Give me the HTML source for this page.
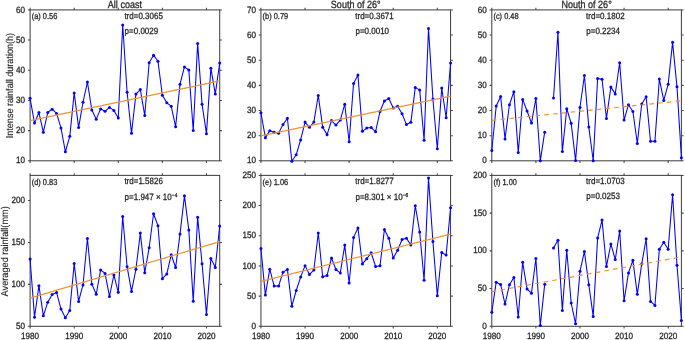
<!DOCTYPE html>
<html><head><meta charset="utf-8"><style>
html,body{margin:0;padding:0;background:#fff;width:685px;height:340px;overflow:hidden}
svg{display:block;will-change:transform}
text{font-family:"Liberation Sans",sans-serif;fill:#262626;stroke:#262626;stroke-width:0.28px;text-rendering:geometricPrecision}
.tl{font-size:9.1px}
.an{font-size:9.1px}
.lb{font-size:8.6px}
.sup{font-size:5.6px}
.ti{font-size:10.5px}
.yl{font-size:9.9px;stroke-width:0.12px}
</style></head><body>
<svg width="685" height="340" viewBox="0 0 685 340">
<rect width="685" height="340" fill="#fff"/>
<rect x="30.1" y="9.9" width="189.6" height="150.9" fill="none" stroke="#444444" stroke-width="1.05"/>
<path d="M30.1 160.8h-2.2M219.7 160.8h2.2M30.1 130.62h-2.2M219.7 130.62h2.2M30.1 100.44h-2.2M219.7 100.44h2.2M30.1 70.26h-2.2M219.7 70.26h2.2M30.1 40.08h-2.2M219.7 40.08h2.2M30.1 9.9h-2.2M219.7 9.9h2.2M30.1 9.9v-2.2M30.1 160.8v2.2M74.19 9.9v-2.2M74.19 160.8v2.2M118.29 9.9v-2.2M118.29 160.8v2.2M162.38 9.9v-2.2M162.38 160.8v2.2M206.47 9.9v-2.2M206.47 160.8v2.2" stroke="#444444" stroke-width="1.05" fill="none"/>
<polyline points="30.1,98.33 34.51,123.08 38.92,112.51 43.33,132.13 47.74,112.51 52.15,109.19 56.56,113.42 60.97,127.9 65.37,151.75 69.78,136.35 74.19,92.9 78.6,127.6 83.01,102.25 87.42,82.03 91.83,110.1 96.24,119.15 100.65,108.89 105.06,111.3 109.47,107.38 113.88,110.4 118.29,117.94 122.7,24.99 127.1,92.29 131.51,133.34 135.92,94.1 140.33,89.58 144.74,115.53 149.15,62.71 153.56,55.17 157.97,61.21 162.38,95.31 166.79,102.85 171.2,106.17 175.61,126.7 180.02,84.14 184.43,66.94 188.83,69.96 193.24,130.62 197.65,43.4 202.06,104.36 206.47,133.64 210.88,68.15 215.29,94.1 219.7,63.02" fill="none" stroke="#0000ff" stroke-width="1.05" stroke-linejoin="round"/>
<circle cx="30.1" cy="98.33" r="1.5" fill="#0000ff"/>
<circle cx="34.51" cy="123.08" r="1.5" fill="#0000ff"/>
<circle cx="38.92" cy="112.51" r="1.5" fill="#0000ff"/>
<circle cx="43.33" cy="132.13" r="1.5" fill="#0000ff"/>
<circle cx="47.74" cy="112.51" r="1.5" fill="#0000ff"/>
<circle cx="52.15" cy="109.19" r="1.5" fill="#0000ff"/>
<circle cx="56.56" cy="113.42" r="1.5" fill="#0000ff"/>
<circle cx="60.97" cy="127.9" r="1.5" fill="#0000ff"/>
<circle cx="65.37" cy="151.75" r="1.5" fill="#0000ff"/>
<circle cx="69.78" cy="136.35" r="1.5" fill="#0000ff"/>
<circle cx="74.19" cy="92.9" r="1.5" fill="#0000ff"/>
<circle cx="78.6" cy="127.6" r="1.5" fill="#0000ff"/>
<circle cx="83.01" cy="102.25" r="1.5" fill="#0000ff"/>
<circle cx="87.42" cy="82.03" r="1.5" fill="#0000ff"/>
<circle cx="91.83" cy="110.1" r="1.5" fill="#0000ff"/>
<circle cx="96.24" cy="119.15" r="1.5" fill="#0000ff"/>
<circle cx="100.65" cy="108.89" r="1.5" fill="#0000ff"/>
<circle cx="105.06" cy="111.3" r="1.5" fill="#0000ff"/>
<circle cx="109.47" cy="107.38" r="1.5" fill="#0000ff"/>
<circle cx="113.88" cy="110.4" r="1.5" fill="#0000ff"/>
<circle cx="118.29" cy="117.94" r="1.5" fill="#0000ff"/>
<circle cx="122.7" cy="24.99" r="1.5" fill="#0000ff"/>
<circle cx="127.1" cy="92.29" r="1.5" fill="#0000ff"/>
<circle cx="131.51" cy="133.34" r="1.5" fill="#0000ff"/>
<circle cx="135.92" cy="94.1" r="1.5" fill="#0000ff"/>
<circle cx="140.33" cy="89.58" r="1.5" fill="#0000ff"/>
<circle cx="144.74" cy="115.53" r="1.5" fill="#0000ff"/>
<circle cx="149.15" cy="62.71" r="1.5" fill="#0000ff"/>
<circle cx="153.56" cy="55.17" r="1.5" fill="#0000ff"/>
<circle cx="157.97" cy="61.21" r="1.5" fill="#0000ff"/>
<circle cx="162.38" cy="95.31" r="1.5" fill="#0000ff"/>
<circle cx="166.79" cy="102.85" r="1.5" fill="#0000ff"/>
<circle cx="171.2" cy="106.17" r="1.5" fill="#0000ff"/>
<circle cx="175.61" cy="126.7" r="1.5" fill="#0000ff"/>
<circle cx="180.02" cy="84.14" r="1.5" fill="#0000ff"/>
<circle cx="184.43" cy="66.94" r="1.5" fill="#0000ff"/>
<circle cx="188.83" cy="69.96" r="1.5" fill="#0000ff"/>
<circle cx="193.24" cy="130.62" r="1.5" fill="#0000ff"/>
<circle cx="197.65" cy="43.4" r="1.5" fill="#0000ff"/>
<circle cx="202.06" cy="104.36" r="1.5" fill="#0000ff"/>
<circle cx="206.47" cy="133.64" r="1.5" fill="#0000ff"/>
<circle cx="210.88" cy="68.15" r="1.5" fill="#0000ff"/>
<circle cx="215.29" cy="94.1" r="1.5" fill="#0000ff"/>
<circle cx="219.7" cy="63.02" r="1.5" fill="#0000ff"/>
<line x1="30.1" y1="120.66" x2="219.7" y2="80.82" stroke="#ed952e" stroke-width="1.2"/>
<text transform="translate(25.1,163.4) scale(0.89,1)" class="tl" text-anchor="end">10</text>
<text transform="translate(25.1,133.22) scale(0.89,1)" class="tl" text-anchor="end">20</text>
<text transform="translate(25.1,103.04) scale(0.89,1)" class="tl" text-anchor="end">30</text>
<text transform="translate(25.1,72.86) scale(0.89,1)" class="tl" text-anchor="end">40</text>
<text transform="translate(25.1,42.68) scale(0.89,1)" class="tl" text-anchor="end">50</text>
<text transform="translate(25.1,12.5) scale(0.89,1)" class="tl" text-anchor="end">60</text>
<text transform="translate(31.7,19.3) scale(0.865,1)" class="lb">(a) 0.56</text>
<text transform="translate(124.4,18.9) scale(0.88,1)" class="an">trd=0.3065</text>
<text transform="translate(124.6,33.6) scale(0.88,1)" class="an">p=0.0029</text>
<text transform="translate(124.9,7.5) scale(0.86,1)" class="ti" text-anchor="middle">All coast</text>
<rect x="260.95" y="9.9" width="189.6" height="150.9" fill="none" stroke="#444444" stroke-width="1.05"/>
<path d="M260.95 160.8h-2.2M450.55 160.8h2.2M260.95 135.65h-2.2M450.55 135.65h2.2M260.95 110.5h-2.2M450.55 110.5h2.2M260.95 85.35h-2.2M450.55 85.35h2.2M260.95 60.2h-2.2M450.55 60.2h2.2M260.95 35.05h-2.2M450.55 35.05h2.2M260.95 9.9h-2.2M450.55 9.9h2.2M260.95 9.9v-2.2M260.95 160.8v2.2M305.04 9.9v-2.2M305.04 160.8v2.2M349.14 9.9v-2.2M349.14 160.8v2.2M393.23 9.9v-2.2M393.23 160.8v2.2M437.32 9.9v-2.2M437.32 160.8v2.2" stroke="#444444" stroke-width="1.05" fill="none"/>
<polyline points="260.95,112.76 265.36,137.66 269.77,130.87 274.18,132.13 278.59,133.13 283,124.58 287.41,118.3 291.82,161.3 296.22,154.76 300.63,139.93 305.04,122.07 309.45,127.35 313.86,122.07 318.27,95.41 322.68,127.35 327.09,134.64 331.5,120.56 335.91,125.09 340.32,120.06 344.73,104.21 349.14,141.69 353.55,83.59 357.95,75.04 362.36,131.37 366.77,128.1 371.18,127.6 375.59,131.63 380,111.51 384.41,100.94 388.82,98.43 393.23,107.99 397.64,106.22 402.05,113.77 406.46,124.58 410.87,122.32 415.28,87.61 419.68,89.88 424.09,140.18 428.5,28.51 432.91,98.93 437.32,148.73 441.73,88.12 446.14,117.79 450.55,62.97" fill="none" stroke="#0000ff" stroke-width="1.05" stroke-linejoin="round"/>
<circle cx="260.95" cy="112.76" r="1.5" fill="#0000ff"/>
<circle cx="265.36" cy="137.66" r="1.5" fill="#0000ff"/>
<circle cx="269.77" cy="130.87" r="1.5" fill="#0000ff"/>
<circle cx="274.18" cy="132.13" r="1.5" fill="#0000ff"/>
<circle cx="278.59" cy="133.13" r="1.5" fill="#0000ff"/>
<circle cx="283" cy="124.58" r="1.5" fill="#0000ff"/>
<circle cx="287.41" cy="118.3" r="1.5" fill="#0000ff"/>
<circle cx="291.82" cy="161.3" r="1.5" fill="#0000ff"/>
<circle cx="296.22" cy="154.76" r="1.5" fill="#0000ff"/>
<circle cx="300.63" cy="139.93" r="1.5" fill="#0000ff"/>
<circle cx="305.04" cy="122.07" r="1.5" fill="#0000ff"/>
<circle cx="309.45" cy="127.35" r="1.5" fill="#0000ff"/>
<circle cx="313.86" cy="122.07" r="1.5" fill="#0000ff"/>
<circle cx="318.27" cy="95.41" r="1.5" fill="#0000ff"/>
<circle cx="322.68" cy="127.35" r="1.5" fill="#0000ff"/>
<circle cx="327.09" cy="134.64" r="1.5" fill="#0000ff"/>
<circle cx="331.5" cy="120.56" r="1.5" fill="#0000ff"/>
<circle cx="335.91" cy="125.09" r="1.5" fill="#0000ff"/>
<circle cx="340.32" cy="120.06" r="1.5" fill="#0000ff"/>
<circle cx="344.73" cy="104.21" r="1.5" fill="#0000ff"/>
<circle cx="349.14" cy="141.69" r="1.5" fill="#0000ff"/>
<circle cx="353.55" cy="83.59" r="1.5" fill="#0000ff"/>
<circle cx="357.95" cy="75.04" r="1.5" fill="#0000ff"/>
<circle cx="362.36" cy="131.37" r="1.5" fill="#0000ff"/>
<circle cx="366.77" cy="128.1" r="1.5" fill="#0000ff"/>
<circle cx="371.18" cy="127.6" r="1.5" fill="#0000ff"/>
<circle cx="375.59" cy="131.63" r="1.5" fill="#0000ff"/>
<circle cx="380" cy="111.51" r="1.5" fill="#0000ff"/>
<circle cx="384.41" cy="100.94" r="1.5" fill="#0000ff"/>
<circle cx="388.82" cy="98.43" r="1.5" fill="#0000ff"/>
<circle cx="393.23" cy="107.99" r="1.5" fill="#0000ff"/>
<circle cx="397.64" cy="106.22" r="1.5" fill="#0000ff"/>
<circle cx="402.05" cy="113.77" r="1.5" fill="#0000ff"/>
<circle cx="406.46" cy="124.58" r="1.5" fill="#0000ff"/>
<circle cx="410.87" cy="122.32" r="1.5" fill="#0000ff"/>
<circle cx="415.28" cy="87.61" r="1.5" fill="#0000ff"/>
<circle cx="419.68" cy="89.88" r="1.5" fill="#0000ff"/>
<circle cx="424.09" cy="140.18" r="1.5" fill="#0000ff"/>
<circle cx="428.5" cy="28.51" r="1.5" fill="#0000ff"/>
<circle cx="432.91" cy="98.93" r="1.5" fill="#0000ff"/>
<circle cx="437.32" cy="148.73" r="1.5" fill="#0000ff"/>
<circle cx="441.73" cy="88.12" r="1.5" fill="#0000ff"/>
<circle cx="446.14" cy="117.79" r="1.5" fill="#0000ff"/>
<circle cx="450.55" cy="62.97" r="1.5" fill="#0000ff"/>
<line x1="260.95" y1="135.9" x2="450.55" y2="96.16" stroke="#ed952e" stroke-width="1.2"/>
<text transform="translate(255.95,163.4) scale(0.89,1)" class="tl" text-anchor="end">10</text>
<text transform="translate(255.95,138.25) scale(0.89,1)" class="tl" text-anchor="end">20</text>
<text transform="translate(255.95,113.1) scale(0.89,1)" class="tl" text-anchor="end">30</text>
<text transform="translate(255.95,87.95) scale(0.89,1)" class="tl" text-anchor="end">40</text>
<text transform="translate(255.95,62.8) scale(0.89,1)" class="tl" text-anchor="end">50</text>
<text transform="translate(255.95,37.65) scale(0.89,1)" class="tl" text-anchor="end">60</text>
<text transform="translate(255.95,12.5) scale(0.89,1)" class="tl" text-anchor="end">70</text>
<text transform="translate(262.55,19.3) scale(0.865,1)" class="lb">(b) 0.79</text>
<text transform="translate(355.25,18.9) scale(0.88,1)" class="an">trd=0.3671</text>
<text transform="translate(355.45,33.6) scale(0.88,1)" class="an">p=0.0010</text>
<text transform="translate(355.75,7.5) scale(0.86,1)" class="ti" text-anchor="middle">South of 26°</text>
<rect x="491.8" y="9.9" width="189.6" height="150.9" fill="none" stroke="#444444" stroke-width="1.05"/>
<path d="M491.8 160.8h-2.2M681.4 160.8h2.2M491.8 135.65h-2.2M681.4 135.65h2.2M491.8 110.5h-2.2M681.4 110.5h2.2M491.8 85.35h-2.2M681.4 85.35h2.2M491.8 60.2h-2.2M681.4 60.2h2.2M491.8 35.05h-2.2M681.4 35.05h2.2M491.8 9.9h-2.2M681.4 9.9h2.2M491.8 9.9v-2.2M491.8 160.8v2.2M535.89 9.9v-2.2M535.89 160.8v2.2M579.99 9.9v-2.2M579.99 160.8v2.2M624.08 9.9v-2.2M624.08 160.8v2.2M668.17 9.9v-2.2M668.17 160.8v2.2" stroke="#444444" stroke-width="1.05" fill="none"/>
<polyline points="491.8,150.49 496.21,105.97 500.62,96.42 505.03,138.92 509.44,104.72 513.85,91.64 518.26,152.5 522.67,99.43 527.07,111 531.48,123.08 535.89,98.43 540.3,160.8 544.71,132.13" fill="none" stroke="#0000ff" stroke-width="1.05" stroke-linejoin="round"/>
<polyline points="553.53,97.93 557.94,32.28 562.35,151.49 566.76,108.74 571.17,123.33 575.58,160.55 579.99,107.48 584.4,75.54 588.8,127.1 593.21,160.8 597.62,78.56 602.03,79.31 606.44,118.55 610.85,87.11 615.26,93.9 619.67,62.71 624.08,120.06 628.49,104.72 632.9,111.51 637.31,143.45 641.72,103.96 646.13,96.67 650.53,141.18 654.94,141.18 659.35,79.06 663.76,100.44 668.17,84.34 672.58,42.34 676.99,86.86 681.4,157.78" fill="none" stroke="#0000ff" stroke-width="1.05" stroke-linejoin="round"/>
<circle cx="491.8" cy="150.49" r="1.5" fill="#0000ff"/>
<circle cx="496.21" cy="105.97" r="1.5" fill="#0000ff"/>
<circle cx="500.62" cy="96.42" r="1.5" fill="#0000ff"/>
<circle cx="505.03" cy="138.92" r="1.5" fill="#0000ff"/>
<circle cx="509.44" cy="104.72" r="1.5" fill="#0000ff"/>
<circle cx="513.85" cy="91.64" r="1.5" fill="#0000ff"/>
<circle cx="518.26" cy="152.5" r="1.5" fill="#0000ff"/>
<circle cx="522.67" cy="99.43" r="1.5" fill="#0000ff"/>
<circle cx="527.07" cy="111" r="1.5" fill="#0000ff"/>
<circle cx="531.48" cy="123.08" r="1.5" fill="#0000ff"/>
<circle cx="535.89" cy="98.43" r="1.5" fill="#0000ff"/>
<circle cx="540.3" cy="160.8" r="1.5" fill="#0000ff"/>
<circle cx="544.71" cy="132.13" r="1.5" fill="#0000ff"/>
<circle cx="553.53" cy="97.93" r="1.5" fill="#0000ff"/>
<circle cx="557.94" cy="32.28" r="1.5" fill="#0000ff"/>
<circle cx="562.35" cy="151.49" r="1.5" fill="#0000ff"/>
<circle cx="566.76" cy="108.74" r="1.5" fill="#0000ff"/>
<circle cx="571.17" cy="123.33" r="1.5" fill="#0000ff"/>
<circle cx="575.58" cy="160.55" r="1.5" fill="#0000ff"/>
<circle cx="579.99" cy="107.48" r="1.5" fill="#0000ff"/>
<circle cx="584.4" cy="75.54" r="1.5" fill="#0000ff"/>
<circle cx="588.8" cy="127.1" r="1.5" fill="#0000ff"/>
<circle cx="593.21" cy="160.8" r="1.5" fill="#0000ff"/>
<circle cx="597.62" cy="78.56" r="1.5" fill="#0000ff"/>
<circle cx="602.03" cy="79.31" r="1.5" fill="#0000ff"/>
<circle cx="606.44" cy="118.55" r="1.5" fill="#0000ff"/>
<circle cx="610.85" cy="87.11" r="1.5" fill="#0000ff"/>
<circle cx="615.26" cy="93.9" r="1.5" fill="#0000ff"/>
<circle cx="619.67" cy="62.71" r="1.5" fill="#0000ff"/>
<circle cx="624.08" cy="120.06" r="1.5" fill="#0000ff"/>
<circle cx="628.49" cy="104.72" r="1.5" fill="#0000ff"/>
<circle cx="632.9" cy="111.51" r="1.5" fill="#0000ff"/>
<circle cx="637.31" cy="143.45" r="1.5" fill="#0000ff"/>
<circle cx="641.72" cy="103.96" r="1.5" fill="#0000ff"/>
<circle cx="646.13" cy="96.67" r="1.5" fill="#0000ff"/>
<circle cx="650.53" cy="141.18" r="1.5" fill="#0000ff"/>
<circle cx="654.94" cy="141.18" r="1.5" fill="#0000ff"/>
<circle cx="659.35" cy="79.06" r="1.5" fill="#0000ff"/>
<circle cx="663.76" cy="100.44" r="1.5" fill="#0000ff"/>
<circle cx="668.17" cy="84.34" r="1.5" fill="#0000ff"/>
<circle cx="672.58" cy="42.34" r="1.5" fill="#0000ff"/>
<circle cx="676.99" cy="86.86" r="1.5" fill="#0000ff"/>
<circle cx="681.4" cy="157.78" r="1.5" fill="#0000ff"/>
<line x1="491.8" y1="120.31" x2="681.4" y2="100.82" stroke="#ed952e" stroke-width="1.2" stroke-dasharray="4.6,4.2"/>
<text transform="translate(486.8,163.4) scale(0.89,1)" class="tl" text-anchor="end">0</text>
<text transform="translate(486.8,138.25) scale(0.89,1)" class="tl" text-anchor="end">10</text>
<text transform="translate(486.8,113.1) scale(0.89,1)" class="tl" text-anchor="end">20</text>
<text transform="translate(486.8,87.95) scale(0.89,1)" class="tl" text-anchor="end">30</text>
<text transform="translate(486.8,62.8) scale(0.89,1)" class="tl" text-anchor="end">40</text>
<text transform="translate(486.8,37.65) scale(0.89,1)" class="tl" text-anchor="end">50</text>
<text transform="translate(486.8,12.5) scale(0.89,1)" class="tl" text-anchor="end">60</text>
<text transform="translate(493.4,19.3) scale(0.865,1)" class="lb">(c) 0.48</text>
<text transform="translate(586.1,18.9) scale(0.88,1)" class="an">trd=0.1802</text>
<text transform="translate(586.3,33.6) scale(0.88,1)" class="an">p=0.2234</text>
<text transform="translate(586.6,7.5) scale(0.86,1)" class="ti" text-anchor="middle">Nouth of 26°</text>
<rect x="30.1" y="175.4" width="189.6" height="150.9" fill="none" stroke="#444444" stroke-width="1.05"/>
<path d="M30.1 326.3h-2.2M219.7 326.3h2.2M30.1 284.38h-2.2M219.7 284.38h2.2M30.1 242.47h-2.2M219.7 242.47h2.2M30.1 200.55h-2.2M219.7 200.55h2.2M30.1 175.4v-2.2M30.1 326.3v2.2M74.19 175.4v-2.2M74.19 326.3v2.2M118.29 175.4v-2.2M118.29 326.3v2.2M162.38 175.4v-2.2M162.38 326.3v2.2M206.47 175.4v-2.2M206.47 326.3v2.2" stroke="#444444" stroke-width="1.05" fill="none"/>
<polyline points="30.1,259.07 34.51,317.25 38.92,285.64 43.33,315.82 47.74,302.32 52.15,294.44 56.56,292.43 60.97,309.11 65.37,317.67 69.78,310.46 74.19,263.59 78.6,301.4 83.01,284.97 87.42,238.44 91.83,284.13 96.24,294.28 100.65,269.88 105.06,273.4 109.47,296.46 113.88,274.99 118.29,292.35 122.7,216.56 127.1,266.69 131.51,291.43 135.92,269.29 140.33,233.08 144.74,272.73 149.15,247.75 153.56,213.71 157.97,225.7 162.38,278.77 166.79,273.9 171.2,254.79 175.61,267.53 180.02,234.08 184.43,195.69 188.83,230.06 193.24,301.23 197.65,217.15 202.06,263.76 206.47,314.56 210.88,258.39 215.29,267.53 219.7,226.12" fill="none" stroke="#0000ff" stroke-width="1.05" stroke-linejoin="round"/>
<circle cx="30.1" cy="259.07" r="1.5" fill="#0000ff"/>
<circle cx="34.51" cy="317.25" r="1.5" fill="#0000ff"/>
<circle cx="38.92" cy="285.64" r="1.5" fill="#0000ff"/>
<circle cx="43.33" cy="315.82" r="1.5" fill="#0000ff"/>
<circle cx="47.74" cy="302.32" r="1.5" fill="#0000ff"/>
<circle cx="52.15" cy="294.44" r="1.5" fill="#0000ff"/>
<circle cx="56.56" cy="292.43" r="1.5" fill="#0000ff"/>
<circle cx="60.97" cy="309.11" r="1.5" fill="#0000ff"/>
<circle cx="65.37" cy="317.67" r="1.5" fill="#0000ff"/>
<circle cx="69.78" cy="310.46" r="1.5" fill="#0000ff"/>
<circle cx="74.19" cy="263.59" r="1.5" fill="#0000ff"/>
<circle cx="78.6" cy="301.4" r="1.5" fill="#0000ff"/>
<circle cx="83.01" cy="284.97" r="1.5" fill="#0000ff"/>
<circle cx="87.42" cy="238.44" r="1.5" fill="#0000ff"/>
<circle cx="91.83" cy="284.13" r="1.5" fill="#0000ff"/>
<circle cx="96.24" cy="294.28" r="1.5" fill="#0000ff"/>
<circle cx="100.65" cy="269.88" r="1.5" fill="#0000ff"/>
<circle cx="105.06" cy="273.4" r="1.5" fill="#0000ff"/>
<circle cx="109.47" cy="296.46" r="1.5" fill="#0000ff"/>
<circle cx="113.88" cy="274.99" r="1.5" fill="#0000ff"/>
<circle cx="118.29" cy="292.35" r="1.5" fill="#0000ff"/>
<circle cx="122.7" cy="216.56" r="1.5" fill="#0000ff"/>
<circle cx="127.1" cy="266.69" r="1.5" fill="#0000ff"/>
<circle cx="131.51" cy="291.43" r="1.5" fill="#0000ff"/>
<circle cx="135.92" cy="269.29" r="1.5" fill="#0000ff"/>
<circle cx="140.33" cy="233.08" r="1.5" fill="#0000ff"/>
<circle cx="144.74" cy="272.73" r="1.5" fill="#0000ff"/>
<circle cx="149.15" cy="247.75" r="1.5" fill="#0000ff"/>
<circle cx="153.56" cy="213.71" r="1.5" fill="#0000ff"/>
<circle cx="157.97" cy="225.7" r="1.5" fill="#0000ff"/>
<circle cx="162.38" cy="278.77" r="1.5" fill="#0000ff"/>
<circle cx="166.79" cy="273.9" r="1.5" fill="#0000ff"/>
<circle cx="171.2" cy="254.79" r="1.5" fill="#0000ff"/>
<circle cx="175.61" cy="267.53" r="1.5" fill="#0000ff"/>
<circle cx="180.02" cy="234.08" r="1.5" fill="#0000ff"/>
<circle cx="184.43" cy="195.69" r="1.5" fill="#0000ff"/>
<circle cx="188.83" cy="230.06" r="1.5" fill="#0000ff"/>
<circle cx="193.24" cy="301.23" r="1.5" fill="#0000ff"/>
<circle cx="197.65" cy="217.15" r="1.5" fill="#0000ff"/>
<circle cx="202.06" cy="263.76" r="1.5" fill="#0000ff"/>
<circle cx="206.47" cy="314.56" r="1.5" fill="#0000ff"/>
<circle cx="210.88" cy="258.39" r="1.5" fill="#0000ff"/>
<circle cx="215.29" cy="267.53" r="1.5" fill="#0000ff"/>
<circle cx="219.7" cy="226.12" r="1.5" fill="#0000ff"/>
<line x1="30.1" y1="298.05" x2="219.7" y2="241.63" stroke="#ed952e" stroke-width="1.2"/>
<text transform="translate(25.1,328.9) scale(0.89,1)" class="tl" text-anchor="end">50</text>
<text transform="translate(25.1,286.98) scale(0.89,1)" class="tl" text-anchor="end">100</text>
<text transform="translate(25.1,245.07) scale(0.89,1)" class="tl" text-anchor="end">150</text>
<text transform="translate(25.1,203.15) scale(0.89,1)" class="tl" text-anchor="end">200</text>
<text transform="translate(30.1,338.6) scale(0.89,1)" class="tl" text-anchor="middle">1980</text>
<text transform="translate(74.19,338.6) scale(0.89,1)" class="tl" text-anchor="middle">1990</text>
<text transform="translate(118.29,338.6) scale(0.89,1)" class="tl" text-anchor="middle">2000</text>
<text transform="translate(162.38,338.6) scale(0.89,1)" class="tl" text-anchor="middle">2010</text>
<text transform="translate(206.47,338.6) scale(0.89,1)" class="tl" text-anchor="middle">2020</text>
<text transform="translate(31.7,184.8) scale(0.865,1)" class="lb">(d) 0.83</text>
<text transform="translate(124.4,184.4) scale(0.88,1)" class="an">trd=1.5826</text>
<text transform="translate(124.6,199.7) scale(0.88,1)" class="an">p=1.947 × 10<tspan class="sup" dy="-3.0">−4</tspan></text>
<rect x="260.95" y="175.4" width="189.6" height="150.9" fill="none" stroke="#444444" stroke-width="1.05"/>
<path d="M260.95 326.3h-2.2M450.55 326.3h2.2M260.95 296.12h-2.2M450.55 296.12h2.2M260.95 265.94h-2.2M450.55 265.94h2.2M260.95 235.76h-2.2M450.55 235.76h2.2M260.95 205.58h-2.2M450.55 205.58h2.2M260.95 175.4h-2.2M450.55 175.4h2.2M260.95 175.4v-2.2M260.95 326.3v2.2M305.04 175.4v-2.2M305.04 326.3v2.2M349.14 175.4v-2.2M349.14 326.3v2.2M393.23 175.4v-2.2M393.23 326.3v2.2M437.32 175.4v-2.2M437.32 326.3v2.2" stroke="#444444" stroke-width="1.05" fill="none"/>
<polyline points="260.95,248.56 265.36,295.09 269.77,269.14 274.18,286.04 278.59,286.04 283,272.16 287.41,269.38 291.82,306.2 296.22,290.51 300.63,277.11 305.04,265.64 309.45,274.51 313.86,269.98 318.27,233.04 322.68,276.8 327.09,275.48 331.5,257.97 335.91,269.56 340.32,272.88 344.73,245.12 349.14,282.96 353.55,237.39 357.95,228.03 362.36,263.95 366.77,258.7 371.18,252.84 375.59,266.48 380,265.7 384.41,229.6 388.82,238.17 393.23,257.97 397.64,250.25 402.05,239.44 406.46,238.17 410.87,245.12 415.28,205.76 419.68,231.96 424.09,280.25 428.5,178.12 432.91,241.43 437.32,295.64 441.73,252.48 446.14,255.08 450.55,207.69" fill="none" stroke="#0000ff" stroke-width="1.05" stroke-linejoin="round"/>
<circle cx="260.95" cy="248.56" r="1.5" fill="#0000ff"/>
<circle cx="265.36" cy="295.09" r="1.5" fill="#0000ff"/>
<circle cx="269.77" cy="269.14" r="1.5" fill="#0000ff"/>
<circle cx="274.18" cy="286.04" r="1.5" fill="#0000ff"/>
<circle cx="278.59" cy="286.04" r="1.5" fill="#0000ff"/>
<circle cx="283" cy="272.16" r="1.5" fill="#0000ff"/>
<circle cx="287.41" cy="269.38" r="1.5" fill="#0000ff"/>
<circle cx="291.82" cy="306.2" r="1.5" fill="#0000ff"/>
<circle cx="296.22" cy="290.51" r="1.5" fill="#0000ff"/>
<circle cx="300.63" cy="277.11" r="1.5" fill="#0000ff"/>
<circle cx="305.04" cy="265.64" r="1.5" fill="#0000ff"/>
<circle cx="309.45" cy="274.51" r="1.5" fill="#0000ff"/>
<circle cx="313.86" cy="269.98" r="1.5" fill="#0000ff"/>
<circle cx="318.27" cy="233.04" r="1.5" fill="#0000ff"/>
<circle cx="322.68" cy="276.8" r="1.5" fill="#0000ff"/>
<circle cx="327.09" cy="275.48" r="1.5" fill="#0000ff"/>
<circle cx="331.5" cy="257.97" r="1.5" fill="#0000ff"/>
<circle cx="335.91" cy="269.56" r="1.5" fill="#0000ff"/>
<circle cx="340.32" cy="272.88" r="1.5" fill="#0000ff"/>
<circle cx="344.73" cy="245.12" r="1.5" fill="#0000ff"/>
<circle cx="349.14" cy="282.96" r="1.5" fill="#0000ff"/>
<circle cx="353.55" cy="237.39" r="1.5" fill="#0000ff"/>
<circle cx="357.95" cy="228.03" r="1.5" fill="#0000ff"/>
<circle cx="362.36" cy="263.95" r="1.5" fill="#0000ff"/>
<circle cx="366.77" cy="258.7" r="1.5" fill="#0000ff"/>
<circle cx="371.18" cy="252.84" r="1.5" fill="#0000ff"/>
<circle cx="375.59" cy="266.48" r="1.5" fill="#0000ff"/>
<circle cx="380" cy="265.7" r="1.5" fill="#0000ff"/>
<circle cx="384.41" cy="229.6" r="1.5" fill="#0000ff"/>
<circle cx="388.82" cy="238.17" r="1.5" fill="#0000ff"/>
<circle cx="393.23" cy="257.97" r="1.5" fill="#0000ff"/>
<circle cx="397.64" cy="250.25" r="1.5" fill="#0000ff"/>
<circle cx="402.05" cy="239.44" r="1.5" fill="#0000ff"/>
<circle cx="406.46" cy="238.17" r="1.5" fill="#0000ff"/>
<circle cx="410.87" cy="245.12" r="1.5" fill="#0000ff"/>
<circle cx="415.28" cy="205.76" r="1.5" fill="#0000ff"/>
<circle cx="419.68" cy="231.96" r="1.5" fill="#0000ff"/>
<circle cx="424.09" cy="280.25" r="1.5" fill="#0000ff"/>
<circle cx="428.5" cy="178.12" r="1.5" fill="#0000ff"/>
<circle cx="432.91" cy="241.43" r="1.5" fill="#0000ff"/>
<circle cx="437.32" cy="295.64" r="1.5" fill="#0000ff"/>
<circle cx="441.73" cy="252.48" r="1.5" fill="#0000ff"/>
<circle cx="446.14" cy="255.08" r="1.5" fill="#0000ff"/>
<circle cx="450.55" cy="207.69" r="1.5" fill="#0000ff"/>
<line x1="260.95" y1="281.45" x2="450.55" y2="234.13" stroke="#ed952e" stroke-width="1.2"/>
<text transform="translate(255.95,328.9) scale(0.89,1)" class="tl" text-anchor="end">0</text>
<text transform="translate(255.95,298.72) scale(0.89,1)" class="tl" text-anchor="end">50</text>
<text transform="translate(255.95,268.54) scale(0.89,1)" class="tl" text-anchor="end">100</text>
<text transform="translate(255.95,238.36) scale(0.89,1)" class="tl" text-anchor="end">150</text>
<text transform="translate(255.95,208.18) scale(0.89,1)" class="tl" text-anchor="end">200</text>
<text transform="translate(255.95,178) scale(0.89,1)" class="tl" text-anchor="end">250</text>
<text transform="translate(260.95,338.6) scale(0.89,1)" class="tl" text-anchor="middle">1980</text>
<text transform="translate(305.04,338.6) scale(0.89,1)" class="tl" text-anchor="middle">1990</text>
<text transform="translate(349.14,338.6) scale(0.89,1)" class="tl" text-anchor="middle">2000</text>
<text transform="translate(393.23,338.6) scale(0.89,1)" class="tl" text-anchor="middle">2010</text>
<text transform="translate(437.32,338.6) scale(0.89,1)" class="tl" text-anchor="middle">2020</text>
<text transform="translate(262.55,184.8) scale(0.865,1)" class="lb">(e) 1.06</text>
<text transform="translate(355.25,184.4) scale(0.88,1)" class="an">trd=1.8277</text>
<text transform="translate(355.45,199.7) scale(0.88,1)" class="an">p=8.301 × 10<tspan class="sup" dy="-3.0">−6</tspan></text>
<rect x="491.8" y="175.4" width="189.6" height="150.9" fill="none" stroke="#444444" stroke-width="1.05"/>
<path d="M491.8 326.3h-2.2M681.4 326.3h2.2M491.8 288.58h-2.2M681.4 288.58h2.2M491.8 250.85h-2.2M681.4 250.85h2.2M491.8 213.12h-2.2M681.4 213.12h2.2M491.8 175.4h-2.2M681.4 175.4h2.2M491.8 175.4v-2.2M491.8 326.3v2.2M535.89 175.4v-2.2M535.89 326.3v2.2M579.99 175.4v-2.2M579.99 326.3v2.2M624.08 175.4v-2.2M624.08 326.3v2.2M668.17 175.4v-2.2M668.17 326.3v2.2" stroke="#444444" stroke-width="1.05" fill="none"/>
<polyline points="491.8,312.19 496.21,282.16 500.62,284.43 505.03,304.04 509.44,284.73 513.85,277.48 518.26,316.94 522.67,262.32 527.07,289.1 531.48,293.18 535.89,258.47 540.3,325.55 544.71,284.35" fill="none" stroke="#0000ff" stroke-width="1.05" stroke-linejoin="round"/>
<polyline points="553.53,248.06 557.94,240.36 562.35,310.53 566.76,250.17 571.17,302.99 575.58,323.81 579.99,271.22 584.4,251.45 588.8,284.65 593.21,316.42 597.62,238.1 602.03,220.07 606.44,266.47 610.85,243.98 615.26,259.53 619.67,231.01 624.08,300.72 628.49,272.88 632.9,260.28 637.31,294.31 641.72,263.9 646.13,238.78 650.53,301.48 654.94,305.4 659.35,249.19 663.76,242.32 668.17,249.19 672.58,194.72 676.99,265.19 681.4,320.57" fill="none" stroke="#0000ff" stroke-width="1.05" stroke-linejoin="round"/>
<circle cx="491.8" cy="312.19" r="1.5" fill="#0000ff"/>
<circle cx="496.21" cy="282.16" r="1.5" fill="#0000ff"/>
<circle cx="500.62" cy="284.43" r="1.5" fill="#0000ff"/>
<circle cx="505.03" cy="304.04" r="1.5" fill="#0000ff"/>
<circle cx="509.44" cy="284.73" r="1.5" fill="#0000ff"/>
<circle cx="513.85" cy="277.48" r="1.5" fill="#0000ff"/>
<circle cx="518.26" cy="316.94" r="1.5" fill="#0000ff"/>
<circle cx="522.67" cy="262.32" r="1.5" fill="#0000ff"/>
<circle cx="527.07" cy="289.1" r="1.5" fill="#0000ff"/>
<circle cx="531.48" cy="293.18" r="1.5" fill="#0000ff"/>
<circle cx="535.89" cy="258.47" r="1.5" fill="#0000ff"/>
<circle cx="540.3" cy="325.55" r="1.5" fill="#0000ff"/>
<circle cx="544.71" cy="284.35" r="1.5" fill="#0000ff"/>
<circle cx="553.53" cy="248.06" r="1.5" fill="#0000ff"/>
<circle cx="557.94" cy="240.36" r="1.5" fill="#0000ff"/>
<circle cx="562.35" cy="310.53" r="1.5" fill="#0000ff"/>
<circle cx="566.76" cy="250.17" r="1.5" fill="#0000ff"/>
<circle cx="571.17" cy="302.99" r="1.5" fill="#0000ff"/>
<circle cx="575.58" cy="323.81" r="1.5" fill="#0000ff"/>
<circle cx="579.99" cy="271.22" r="1.5" fill="#0000ff"/>
<circle cx="584.4" cy="251.45" r="1.5" fill="#0000ff"/>
<circle cx="588.8" cy="284.65" r="1.5" fill="#0000ff"/>
<circle cx="593.21" cy="316.42" r="1.5" fill="#0000ff"/>
<circle cx="597.62" cy="238.1" r="1.5" fill="#0000ff"/>
<circle cx="602.03" cy="220.07" r="1.5" fill="#0000ff"/>
<circle cx="606.44" cy="266.47" r="1.5" fill="#0000ff"/>
<circle cx="610.85" cy="243.98" r="1.5" fill="#0000ff"/>
<circle cx="615.26" cy="259.53" r="1.5" fill="#0000ff"/>
<circle cx="619.67" cy="231.01" r="1.5" fill="#0000ff"/>
<circle cx="624.08" cy="300.72" r="1.5" fill="#0000ff"/>
<circle cx="628.49" cy="272.88" r="1.5" fill="#0000ff"/>
<circle cx="632.9" cy="260.28" r="1.5" fill="#0000ff"/>
<circle cx="637.31" cy="294.31" r="1.5" fill="#0000ff"/>
<circle cx="641.72" cy="263.9" r="1.5" fill="#0000ff"/>
<circle cx="646.13" cy="238.78" r="1.5" fill="#0000ff"/>
<circle cx="650.53" cy="301.48" r="1.5" fill="#0000ff"/>
<circle cx="654.94" cy="305.4" r="1.5" fill="#0000ff"/>
<circle cx="659.35" cy="249.19" r="1.5" fill="#0000ff"/>
<circle cx="663.76" cy="242.32" r="1.5" fill="#0000ff"/>
<circle cx="668.17" cy="249.19" r="1.5" fill="#0000ff"/>
<circle cx="672.58" cy="194.72" r="1.5" fill="#0000ff"/>
<circle cx="676.99" cy="265.19" r="1.5" fill="#0000ff"/>
<circle cx="681.4" cy="320.57" r="1.5" fill="#0000ff"/>
<line x1="491.8" y1="291.67" x2="681.4" y2="256.89" stroke="#ed952e" stroke-width="1.2" stroke-dasharray="4.6,4.2"/>
<text transform="translate(486.8,328.9) scale(0.89,1)" class="tl" text-anchor="end">0</text>
<text transform="translate(486.8,291.18) scale(0.89,1)" class="tl" text-anchor="end">50</text>
<text transform="translate(486.8,253.45) scale(0.89,1)" class="tl" text-anchor="end">100</text>
<text transform="translate(486.8,215.72) scale(0.89,1)" class="tl" text-anchor="end">150</text>
<text transform="translate(486.8,178) scale(0.89,1)" class="tl" text-anchor="end">200</text>
<text transform="translate(491.8,338.6) scale(0.89,1)" class="tl" text-anchor="middle">1980</text>
<text transform="translate(535.89,338.6) scale(0.89,1)" class="tl" text-anchor="middle">1990</text>
<text transform="translate(579.99,338.6) scale(0.89,1)" class="tl" text-anchor="middle">2000</text>
<text transform="translate(624.08,338.6) scale(0.89,1)" class="tl" text-anchor="middle">2010</text>
<text transform="translate(668.17,338.6) scale(0.89,1)" class="tl" text-anchor="middle">2020</text>
<text transform="translate(493.4,184.8) scale(0.865,1)" class="lb">(f) 1.00</text>
<text transform="translate(586.1,184.4) scale(0.88,1)" class="an">trd=1.0703</text>
<text transform="translate(586.3,199.1) scale(0.88,1)" class="an">p=0.0253</text>
<text transform="translate(12.6,85.6) rotate(-90) scale(0.918,1)" class="yl" text-anchor="middle">Intense rainfall duration(h)</text>
<text transform="translate(7.5,251.3) rotate(-90) scale(0.93,1)" class="yl" text-anchor="middle">Averaged rainfall(mm)</text>
</svg>
</body></html>
